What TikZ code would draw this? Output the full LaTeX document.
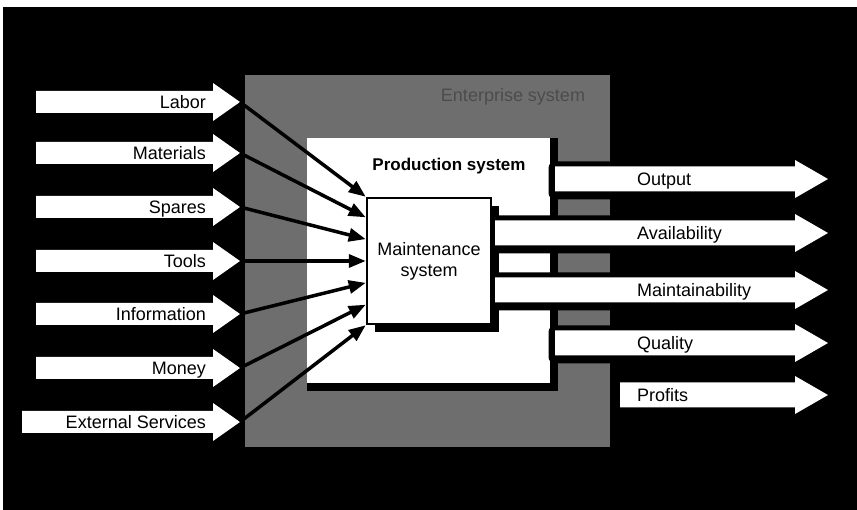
\documentclass[tikz,border=0pt]{standalone}
\usepackage{fontspec}
\setmainfont{Liberation Sans}
\usetikzlibrary{arrows.meta,calc,shadows}
\definecolor{entgray}{gray}{0.43}
\definecolor{enttext}{gray}{0.3}
\begin{document}
\begin{tikzpicture}[x=1pt,y=-1pt,
  lbl/.style={font=\fontsize{18}{20}\selectfont, inner sep=0pt, text=black},
  ttl/.style={font=\bfseries\fontsize{17}{20}\selectfont, inner sep=0pt, text=black},
  conn/.style={line width=3.5pt, draw=black, -{Triangle[length=17pt,width=13pt]}},
  boxshadow/.style={drop shadow={shadow xshift=8pt, shadow yshift=-8pt, opacity=1, fill=black}},
  prodbox/.style={fill=white, inner sep=0pt},
  mainbox/.style={fill=white, draw=black, line width=2.5pt, inner sep=0pt, boxshadow, align=center,
                  font=\fontsize{18}{21}\selectfont},
  halo/.style={fill=black, draw=black, line width=13pt, line join=round},
  blockarrow/.style={fill=white}
]
\useasboundingbox (0,0) rectangle (857,510);
% background
\fill[white] (0,0) rectangle (857,510);
\fill[black] (3,7) rectangle (857,510);
% enterprise system region
\fill[entgray] (245,75) rectangle (610,447);
\node[lbl, text=enttext] (ent) at (513,97) {Enterprise system};
% production system
\fill[black] (307,138) rectangle (558,391);
\node[prodbox, minimum width=243pt, minimum height=245pt] (prod) at (428.5,260.5) {};
\node[ttl] (prodlabel) at (449,166) {Production system};
% output halos
\foreach \y/\xl in {179/555, 233/495, 290/495, 343/555, 395/620} {
  \path[halo] (\xl,\y+1.5-12.5) -- (795,\y+1.5-12.5) -- (795,\y+1.5-19) -- (828,\y+1.5)
     -- (795,\y+1.5+19) -- (795,\y+1.5+12.5) -- (\xl,\y+1.5+12.5) -- cycle;
}
% maintenance system
\node[mainbox, minimum width=124pt, minimum height=126pt] (m) at (429,261) {Maintenance\\system};
% output arrows
\foreach \nm/\lab/\y/\xl in {output/Output/179/555, avail/Availability/233/495,
    maint/Maintainability/290/495, quality/Quality/343/555, profits/Profits/395/620} {
  \fill[blockarrow] (\xl,\y-12.5) -- (795,\y-12.5) -- (795,\y-19) -- (828,\y)
     -- (795,\y+19) -- (795,\y+12.5) -- (\xl,\y+12.5) -- cycle;
  \node[lbl, anchor=base west] (\nm) at (637,\y+6.5) {\lab};
}
% input arrows
\foreach \nm/\lab/\y/\xl in {labor/Labor/102/36, materials/Materials/153/36, spares/Spares/207/36,
    tools/Tools/261/36, information/Information/314/36, money/Money/368/36,
    external/External Services/422/22} {
  \fill[blockarrow] (\xl,\y-11) -- (213,\y-11) -- (213,\y-19) -- (240,\y)
     -- (213,\y+19) -- (213,\y+11) -- (\xl,\y+11) -- cycle;
  \node[lbl, anchor=base east] (\nm) at (206,\y+6.5) {\lab};
  \coordinate (\nm-tip) at (240,\y);
}
% connectors into the maintenance system
\foreach \nm/\f in {labor/0, materials/0.16, spares/0.33, tools/0.5, information/0.67,
    money/0.84, external/1} {
  \draw[conn] (\nm-tip) -- ($(m.north west)!\f!(m.south west)$);
}
\end{tikzpicture}
\end{document}
